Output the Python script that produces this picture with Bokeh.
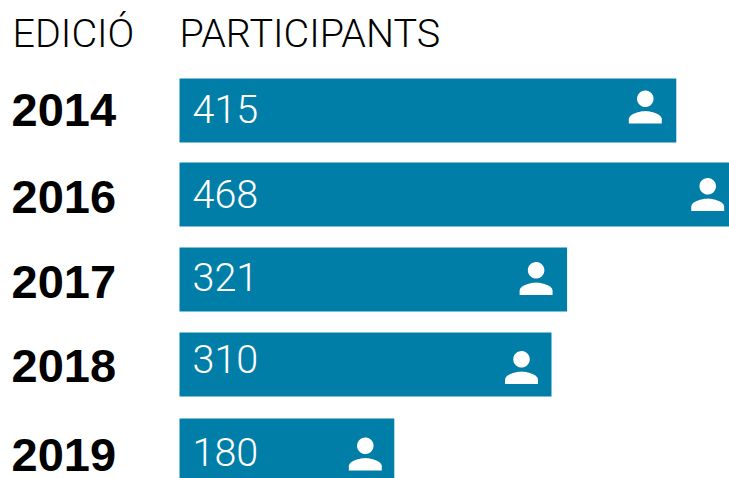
import numpy as np
from bokeh.core.properties import value
from bokeh.embed import file_html
from bokeh.models import Range1d
from bokeh.plotting import figure
from bokeh.resources import INLINE

years = ["2014", "2016", "2017", "2018", "2019"]
labels = ["415", "468", "321", "310", "180"]
bar_lengths = [414, 466, 323, 310, 179]
headers = ["EDICIÓ", "PARTICIPANTS"]
rows = [0, 1, 2, 3, 4]

BAR_COLOR = "#007EA7"
PX = 1.2      # pixels per participant
ROW = 85.0    # pixels per row
W, H = 729, 478
ZERO = 179    # frame pixel of value 0
TOP = 110     # frame pixels above the centre of row 0

# fine offsets of the marks inside each row, in pixels
bar_shift = [0, -1, -1, -1, 0]
year_base = [16, 18.5, 18, 17.5, 21.5]
label_base = [14, 14, 12, 9, 17]
icon_mid = [-3.5, -1, -2, 2, 3.5]
icon_end = [31, 31, 31, 30, 29]

p = figure(width=W, height=H, output_backend="svg", toolbar_location=None,
           x_range=Range1d(-ZERO / PX, (W - ZERO) / PX),
           y_range=Range1d((H - TOP) / ROW, -TOP / ROW),
           min_border=0, outline_line_color=None, background_fill_color="white")
p.xaxis.visible = False
p.yaxis.visible = False
p.grid.visible = False

half = 32 / ROW
p.quad(left=[0] * 5, right=bar_lengths,
       top=[r - half + s / ROW for r, s in zip(rows, bar_shift)],
       bottom=[r + half + s / ROW for r, s in zip(rows, bar_shift)],
       fill_color=BAR_COLOR, line_color=None)


def bez(p0, p1, p2, p3, n=14):
    t = np.linspace(0, 1, n)[:, None]
    p0, p1, p2, p3 = map(np.array, (p0, p1, p2, p3))
    return (1 - t) ** 3 * p0 + 3 * (1 - t) ** 2 * t * p1 + 3 * (1 - t) * t ** 2 * p2 + t ** 3 * p3


# person icon outline on a 24-unit grid
S = 2.06
body = np.vstack([
    bez((0, 2), (-2.67, 2), (-8, 3.34), (-8, 6)),
    [(-8, 8), (8, 8)],
    bez((8, 6), (8, 3.34), (2.67, 2), (0, 2)),
])
th = np.linspace(0, 2 * np.pi, 48)
head = np.column_stack([4 * np.cos(th), -4 + 4 * np.sin(th)])

xs, ys = [], []
for r, length, mid, end in zip(rows, bar_lengths, icon_mid, icon_end):
    for shape in (head, body):
        xs.append(list(length + (shape[:, 0] * S - end) / PX))
        ys.append(list(r + (shape[:, 1] * S + mid) / ROW))
p.patches(xs, ys, fill_color="white", line_color=None)

p.text(x=[(12 - ZERO) / PX] * 5, y=[r + b / ROW for r, b in zip(rows, year_base)], text=years,
       text_font=value("Liberation Sans"), text_font_style="bold", text_font_size="47px",
       text_color="black", text_baseline="alphabetic", text_align="left", x_offset=-1, y_offset=-17)
p.text(x=[0] * 5, y=[r + b / ROW for r, b in zip(rows, label_base)], text=labels,
       text_font=value("Roboto Light"), text_font_size="39.5px",
       text_color="white", text_baseline="alphabetic", text_align="left", x_offset=13, y_offset=-16)
p.text(x=[-167 / PX, 0], y=[-63 / ROW] * 2, text=headers,
       text_font=value("Roboto Light"), text_font_size="39.5px",
       text_color="black", text_baseline="alphabetic", text_align="left", y_offset=-14)

open("out.html", "w").write(file_html(p, INLINE))
